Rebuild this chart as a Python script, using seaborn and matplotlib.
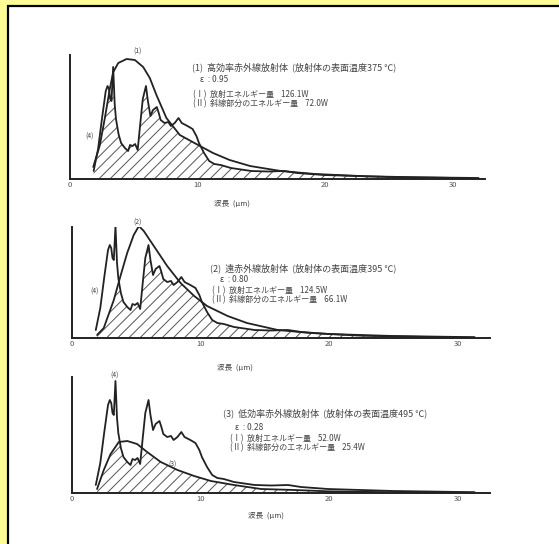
import numpy as np
import seaborn as sns
import matplotlib.pyplot as plt
from matplotlib.patches import Rectangle

sns.set_style('white')
plt.rcParams['font.family'] = ['Noto Sans CJK JP', 'DejaVu Sans']
plt.rcParams['hatch.linewidth'] = 0.7
plt.rcParams['hatch.color'] = '#555555'

# absorption spectrum (4), same in every panel (height in px of the scan)
spec_x = [1.85, 2.2, 2.5, 2.8, 2.94, 3.05, 3.15, 3.25, 3.38, 3.5, 3.6, 3.8, 4.0, 4.3,
          4.55, 4.7, 4.9, 5.1, 5.3, 5.5, 5.7, 5.95, 6.1, 6.3, 6.5, 6.8, 6.95, 7.1, 7.4,
          7.7, 7.9, 8.2, 8.5, 8.75, 9.2, 9.6, 9.9, 10.1, 10.5, 10.9, 11.3, 11.8, 12.6,
          14.2, 15.5, 16.8, 17.8, 19.9, 25.0, 31.3]
spec_y = [8, 30, 60, 88, 93, 90, 80, 78, 112, 75, 60, 45, 36, 31,
          28, 34, 33, 35, 29, 55, 80, 93, 78, 63, 69, 72, 66, 59, 56,
          57, 53, 56, 61, 56, 53, 50, 43, 36, 26, 18, 15, 14, 11,
          8, 7.5, 8, 6, 4, 2, 0.8]

# emitter curves (1), (2), (3)
c1_x = [1.82, 2.34, 2.73, 3.13, 3.39, 3.78, 4.43, 5.08, 5.73, 6.25, 6.77, 7.55, 8.6,
        9.6, 11.2, 12.5, 14.1, 16.5, 19.2, 23.2, 27.2, 32.0]
c1_y = [12, 34, 61, 91, 107, 116, 120, 119, 112, 101, 84, 61, 44,
        37, 26, 19, 13, 8, 5, 2.7, 1.7, 1]
c2_x = [1.95, 2.47, 3.25, 3.77, 4.29, 4.8, 5.2, 5.58, 6.36, 7.4, 8.44, 9.5, 10.5,
        12.1, 13.6, 16.0, 18.6, 22.5, 27.7, 31.3]
c2_y = [3, 10, 38, 62, 85, 103, 112, 107, 92, 72, 55, 42, 32,
        22, 15, 8, 5, 2.3, 1, 0.5]
c3_x = [1.95, 2.47, 3.0, 3.64, 4.3, 5.06, 5.84, 6.9, 8.2, 9.5, 10.8, 12.6, 14.7,
        17.3, 19.9, 25.0, 31.3]
c3_y = [4, 23, 39, 51, 52, 49, 41, 31, 23, 17, 12, 8, 4,
        3, 1.7, 0.7, 0.3]

titles = ['(1)  高効率赤外線放射体  (放射体の表面温度375 ℃)',
          '(2)  遠赤外線放射体  (放射体の表面温度395 ℃)',
          '(3)  低効率赤外線放射体  (放射体の表面温度495 ℃)']
emiss = ['ε  : 0.95', 'ε  : 0.80', 'ε  : 0.28']
energy = ['126.1W', '124.5W', '52.0W']
hatched = ['72.0W', '66.1W', '25.4W']
xticks = [0, 10, 20, 30]

W, H = 559, 544
fig = plt.figure(figsize=(W / 100, H / 100), dpi=100)
fig.patch.set_facecolor('#fffc98')
fig.patches.append(Rectangle((8 / W, -0.02), 1.0, 1 - 6 / H + 0.02, transform=fig.transFigure,
                             facecolor='white', edgecolor='black', linewidth=1.6, zorder=-5))


def ftext(px, py, s, size=6, **kw):
    fig.text(px / W, 1 - py / H, s, fontsize=size, color='#444444', va='center', **kw)


# axes boxes in pixels: left, right, top, bottom
boxes = [(70, 485, 55, 179), (72, 490, 227, 338), (72, 490, 377, 493)]
curves = [(c1_x, c1_y), (c2_x, c2_y), (c3_x, c3_y)]
label_pos = [(0.39, -0.17), (0.39, -0.23), (0.464, -0.16)]
text_pos = [(192, 67, 200, 80, 193, 99), (210, 268, 220, 280, 212, 295), (223, 413, 235, 428, 230, 443)]

for i, (l, r, t, b) in enumerate(boxes):
    ax = fig.add_axes([l / W, 1 - b / H, (r - l) / W, (b - t) / H])
    ax.set_facecolor('none')
    cx, cy = curves[i]
    grid = np.union1d(spec_x, cx)
    grid = grid[(grid >= max(spec_x[0], cx[0])) & (grid <= min(spec_x[-1], cx[-1]))]
    low = np.minimum(np.interp(grid, spec_x, spec_y), np.interp(grid, cx, cy))
    ax.fill_between(grid, 0, low, facecolor='none', edgecolor='#555555', hatch='///', linewidth=0)
    sns.lineplot(x=spec_x, y=spec_y, ax=ax, color='#222222', linewidth=1.3, sort=False, estimator=None)
    sns.lineplot(x=cx, y=cy, ax=ax, color='#222222', linewidth=1.3, sort=False, estimator=None)
    ax.set_xlim(0, 32.5)
    ax.set_ylim(0, b - t)
    sns.despine(ax=ax)
    for s in ['left', 'bottom']:
        ax.spines[s].set_linewidth(1.4)
        ax.spines[s].set_color('#222222')
    ax.set_yticks([])
    ax.set_xticks(xticks)
    ax.set_xticklabels([str(v) for v in xticks])
    ax.tick_params(axis='x', direction='in', length=3, width=1, colors='#222222', labelsize=5.5,
                   labelcolor='#555555', pad=1.5)
    ax.set_xlabel('波長  (μm)', fontsize=5.5, color='#444444')
    ax.xaxis.set_label_coords(*label_pos[i])

    tx, ty, ex, ey, ix, iy = text_pos[i]
    ftext(tx, ty, titles[i], size=6.5)
    ftext(ex, ey, emiss[i])
    ftext(ix, iy, '(Ⅰ)  放射エネルギー量    ' + energy[i] + '\n(Ⅱ)  斜線部分のエネルギー量    '
          + hatched[i], size=5.8, linespacing=0.95)

# curve labels
ftext(138, 52, '(1)', size=5, ha='center')
ftext(90, 137, '(4)', size=5, ha='center')
ftext(138, 223, '(2)', size=5, ha='center')
ftext(95, 292, '(4)', size=5, ha='center')
ftext(115, 376, '(4)', size=5, ha='center')
ftext(173, 465, '(3)', size=5, ha='center')

plt.savefig('out.png', dpi=100, facecolor=fig.get_facecolor())
